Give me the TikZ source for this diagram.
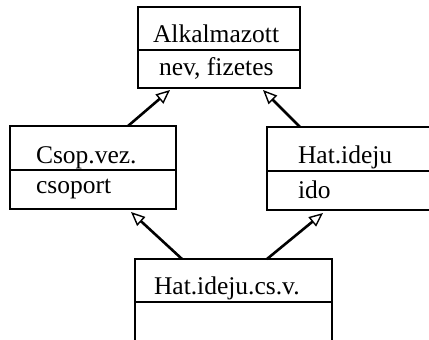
\documentclass[tikz,border=0pt]{standalone}
\usepackage{fontspec}
\setmainfont{Liberation Serif}
\usetikzlibrary{arrows.meta}
\begin{document}
\begin{tikzpicture}[x=1pt, y=-1pt, line width=2.1pt,
  classbox/.style={rectangle, inner sep=0pt, outer sep=0pt},
  lbl/.style={anchor=base west, inner sep=0pt, font=\fontsize{25.5}{30}\selectfont},
  gen/.style={-{Triangle[open, length=14pt, width=12pt, line width=1.4pt]}, line width=2.6pt}]
\useasboundingbox (0,0) rectangle (429,340);

% Alkalmazott
\node[classbox, draw, minimum width=162pt, minimum height=81pt] (alk) at (219,47.5) {};
\draw (alk.west |- 0,50) -- (alk.east |- 0,50);
\node[lbl] (alkname) at (152,42) {Alkalmazott};
\node[lbl] (alkattr) at (158,75) {nev, fizetes};

% Csop.vez.
\node[classbox, draw, minimum width=166pt, minimum height=83pt] (csop) at (93,167.5) {};
\draw (csop.west |- 0,170) -- (csop.east |- 0,170);
\node[lbl] (csopname) at (35,163) {Csop.vez.};
\node[lbl] (csopattr) at (35,193) {csoport};

% Hat.ideju (runs past the right edge)
\node[classbox, minimum width=162pt, minimum height=83pt] (hat) at (348,168.5) {};
\draw (429,127) -- (hat.north west) -- (hat.south west) -- (429,210);
\draw (hat.west |- 0,171) -- (429,171);
\node[lbl] (hatname) at (297,163) {Hat.ideju};
\node[lbl] (hatattr) at (297,198) {ido};

% Hat.ideju.cs.v. (runs past the bottom edge)
\node[classbox, minimum width=197pt, minimum height=91pt] (hcs) at (233.5,304.5) {};
\draw (hcs.west |- 0,340) -- (hcs.north west) -- (hcs.north east) -- (hcs.east |- 0,340);
\draw (hcs.west |- 0,302) -- (hcs.east |- 0,302);
\node[lbl] (hcsname) at (153,294) {Hat.ideju.cs.v.};

% Generalisation arrows
\draw[gen] ([xshift=35pt]csop.north) -- ([xshift=-49pt, yshift=-2pt]alk.south);
\draw[gen] ([xshift=33pt]hat.north west) -- ([xshift=44pt, yshift=-2pt]alk.south);
\draw[gen] ([xshift=47pt]hcs.north west) -- ([xshift=38pt, yshift=-3pt]csop.south);
\draw[gen] ([xshift=-65pt]hcs.north east) -- ([xshift=56pt, yshift=-3pt]hat.south west);
\end{tikzpicture}
\end{document}
